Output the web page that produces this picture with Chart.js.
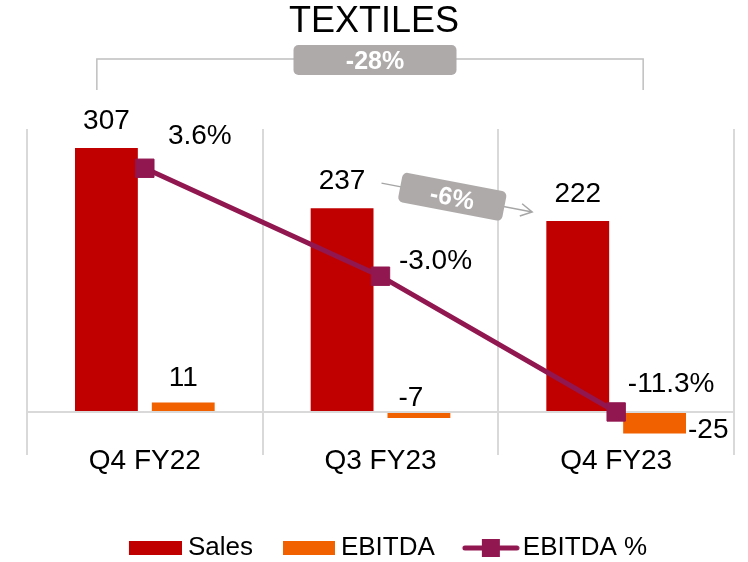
<!DOCTYPE html>
<html>
<head>
<meta charset="utf-8">
<title>Textiles</title>
<script src="https://cdn.jsdelivr.net/npm/chart.js@4.4.1/dist/chart.umd.min.js"></script>
<style>
  html, body { margin: 0; padding: 0; background: #fff; }
  #wrap { width: 748px; height: 562px; }
</style>
</head>
<body>
<div id="wrap"><canvas id="chartTextiles"></canvas></div>
<script>
// Data
const quarters = ['Q4 FY22', 'Q3 FY23', 'Q4 FY23'];
const sales = [307, 237, 222];
const ebitda = [11, -7, -25];
const ebitdaPct = [3.6, -3.0, -11.3];
const totalChange = '-28%';
const lastChange = '-6%';

const RED = '#C00000';
const ORANGE = '#F26100';
const PLUM = '#911750';
const FONT = '"Liberation Sans", Arial, sans-serif';

Chart.defaults.font.family = FONT;
Chart.defaults.maintainAspectRatio = false;
Chart.defaults.responsive = true;

// Legend swatches drawn as small canvases (gap = space before the text)
function swatch(kind, color, swatchWidth, gap) {
  const right = 37 + 13 - gap;
  const left = right - swatchWidth;
  const w = 2 * Math.max(Math.abs(left), Math.abs(right));
  const c = document.createElement('canvas');
  c.width = w;
  c.height = 20;
  const g = c.getContext('2d');
  const x0 = w / 2 + left;
  if (kind === 'box') {
    g.fillStyle = color;
    g.fillRect(x0, 3, swatchWidth, 14);
  } else {
    g.strokeStyle = color;
    g.lineWidth = 5;
    g.lineCap = 'round';
    g.beginPath();
    g.moveTo(x0 + 3, 10);
    g.lineTo(x0 + swatchWidth - 3, 10);
    g.stroke();
    g.fillStyle = color;
    g.fillRect(x0 + swatchWidth / 2 - 9, 1, 18, 18);
  }
  return c;
}
const swatches = [
  swatch('box', RED, 53, 6),
  swatch('box', ORANGE, 52, 6),
  swatch('line', PLUM, 58, 3)
];

// Value labels
const ebitdaLabelSpot = ['top', 'base', 'right'];
const pctLabelDy = [-32, -15, -28];

const valueLabels = {
  id: 'valueLabels',
  afterDatasetsDraw(chart) {
    const ctx = chart.ctx;
    ctx.save();
    ctx.font = '28px ' + FONT;
    ctx.fillStyle = '#000';
    ctx.textBaseline = 'middle';

    chart.getDatasetMeta(0).data.forEach((bar, i) => {
      ctx.textAlign = 'center';
      ctx.fillText(String(sales[i]), bar.x, bar.y - 27);
    });

    chart.getDatasetMeta(1).data.forEach((bar, i) => {
      const p = bar.getProps(['x', 'y', 'base', 'width']);
      const spot = ebitdaLabelSpot[i];
      if (spot === 'top') {
        ctx.textAlign = 'center';
        ctx.fillText(String(ebitda[i]), p.x, p.y - 24);
      } else if (spot === 'base') {
        ctx.textAlign = 'center';
        ctx.fillText(String(ebitda[i]), p.x - 8, p.base - 15);
      } else {
        ctx.textAlign = 'left';
        ctx.fillText(String(ebitda[i]), p.x + p.width / 2 + 2, p.y - 3);
      }
    });

    chart.getDatasetMeta(2).data.forEach((pt, i) => {
      ctx.textAlign = 'center';
      ctx.fillText(ebitdaPct[i].toFixed(1) + '%', pt.x + 55, pt.y + pctLabelDy[i]);
    });
    ctx.restore();
  }
};

// Grey callouts: bracket with total change, arrow with last change
function tag(ctx, text, cx, cy, w, h, angle) {
  ctx.save();
  ctx.translate(cx, cy);
  ctx.rotate(angle);
  ctx.fillStyle = '#AEAAAA';
  ctx.beginPath();
  ctx.roundRect(-w / 2, -h / 2, w, h, 5);
  ctx.fill();
  ctx.fillStyle = '#fff';
  ctx.font = 'bold 25px ' + FONT;
  ctx.textAlign = 'center';
  ctx.textBaseline = 'middle';
  ctx.fillText(text, 0, 2);
  ctx.restore();
}

const callouts = {
  id: 'callouts',
  afterDraw(chart) {
    const { ctx, chartArea, scales } = chart;
    const c0 = scales.x.getPixelForValue(0);
    const c1 = scales.x.getPixelForValue(1);
    const c2 = scales.x.getPixelForValue(2);
    ctx.save();
    ctx.strokeStyle = '#BFBFBF';
    ctx.lineWidth = 1.5;

    const bl = c0 - 48, br = c2 + 27;
    const bt = chartArea.top - 70, bb = chartArea.top - 39;
    ctx.beginPath();
    ctx.moveTo(bl, bb);
    ctx.lineTo(bl, bt);
    ctx.lineTo(br, bt);
    ctx.lineTo(br, bb);
    ctx.stroke();
    tag(ctx, totalChange, (bl + br) / 2 + 5, bt + 1, 163, 30, 0);

    const x1 = c1 + 1, y1 = scales.y.getPixelForValue(sales[1]) - 25;
    const x2 = c2 - 84, y2 = scales.y.getPixelForValue(sales[2]) - 9;
    const ang = Math.atan2(y2 - y1, x2 - x1);
    ctx.strokeStyle = '#A6A6A6';
    ctx.beginPath();
    ctx.moveTo(x1, y1);
    ctx.lineTo(x2, y2);
    ctx.moveTo(x2 - 13 * Math.cos(ang - 0.5), y2 - 13 * Math.sin(ang - 0.5));
    ctx.lineTo(x2, y2);
    ctx.lineTo(x2 - 13 * Math.cos(ang + 0.5), y2 - 13 * Math.sin(ang + 0.5));
    ctx.stroke();
    const t = 0.47;
    tag(ctx, lastChange, x1 + (x2 - x1) * t, y1 + (y2 - y1) * t, 106, 30, ang);
    ctx.restore();
  }
};

new Chart(document.getElementById('chartTextiles'), {
  type: 'bar',
  data: {
    labels: quarters,
    datasets: [{
      label: 'Sales',
      data: sales,
      backgroundColor: RED,
      order: 2,
      categoryPercentage: 0.652,
      barPercentage: 0.818
    }, {
      label: 'EBITDA',
      data: ebitda,
      backgroundColor: ORANGE,
      order: 2,
      categoryPercentage: 0.652,
      barPercentage: 0.818
    }, {
      type: 'line',
      label: 'EBITDA %',
      data: ebitdaPct,
      yAxisID: 'y2',
      borderColor: PLUM,
      backgroundColor: PLUM,
      borderWidth: 5,
      pointStyle: 'rect',
      pointRadius: 13,
      pointBorderWidth: 1,
      pointBackgroundColor: PLUM,
      pointBorderColor: PLUM,
      tension: 0,
      order: 1
    }]
  },
  options: {
    animation: false,
    events: [],
    layout: { padding: { top: 0, left: 0, right: 0, bottom: -9 } },
    plugins: {
      title: {
        display: true,
        text: 'TEXTILES',
        color: '#000',
        font: { size: 36, weight: 'normal' },
        padding: { top: 0, bottom: 85.8 }
      },
      legend: {
        position: 'bottom',
        labels: {
          usePointStyle: true,
          pointStyleWidth: 74,
          boxHeight: 14,
          padding: 1,
          color: '#000',
          font: { size: 26 },
          generateLabels: chart => chart.data.datasets.map((ds, i) => ({
            text: ds.label,
            pointStyle: swatches[i],
            datasetIndex: i,
            hidden: !chart.isDatasetVisible(i),
            fontColor: '#000',
            fillStyle: 'rgba(0,0,0,0)',
            strokeStyle: 'rgba(0,0,0,0)',
            lineWidth: 0
          }))
        }
      },
      tooltip: { enabled: false }
    },
    scales: {
      x: {
        offset: true,
        grid: { offset: true, color: '#D9D9D9', lineWidth: 2, tickLength: 10, drawTicks: true },
        border: { display: false },
        ticks: { color: '#000', font: { size: 28 }, padding: -11, maxRotation: 0, autoSkip: false },
        afterFit(scale) { scale.height = 89; }
      },
      y: {
        min: -38.4,
        max: 329,
        grid: {
          color: c => c.tick.value === 0 ? '#D9D9D9' : 'rgba(0,0,0,0)',
          lineWidth: 2,
          drawTicks: false
        },
        border: { display: false },
        ticks: { display: false },
        afterFit(scale) { scale.width = 27; }
      },
      y2: {
        position: 'right',
        min: -13.32,
        max: 6,
        grid: { display: false },
        border: { display: false },
        ticks: { display: false },
        afterFit(scale) { scale.width = 12; }
      }
    }
  },
  plugins: [valueLabels, callouts]
});
</script>
</body>
</html>
